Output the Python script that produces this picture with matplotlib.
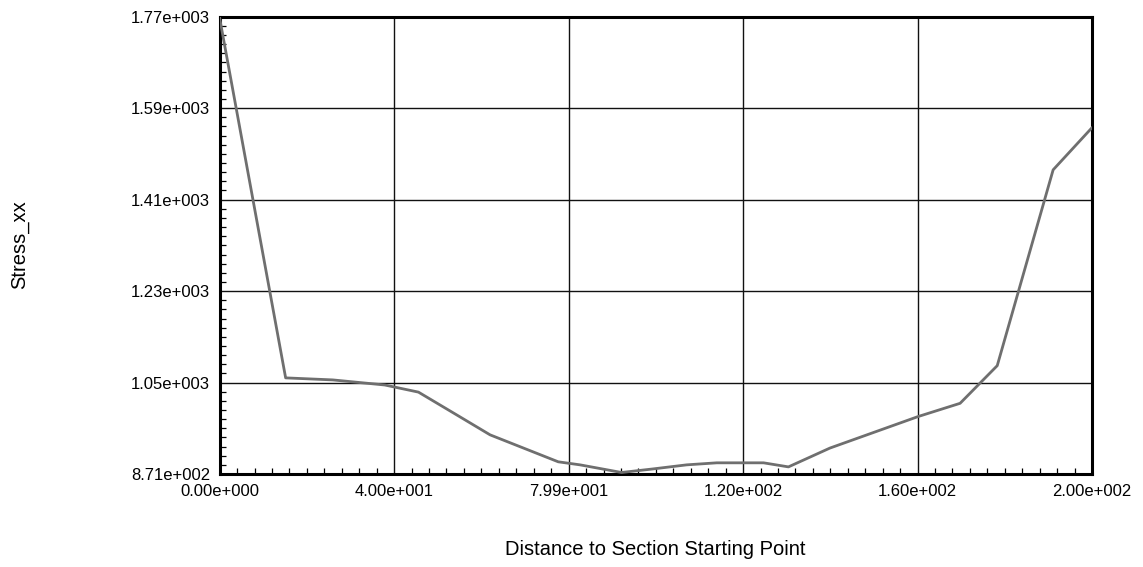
import numpy as np
import matplotlib
matplotlib.use("Agg")
import matplotlib.pyplot as plt
from matplotlib.ticker import AutoMinorLocator

# Stress_xx sampled along the section path
distance = [0.0, 15.1, 25.9, 37.8, 45.5, 54.3, 61.9, 77.5, 82.5, 92.0,
            99.2, 106.9, 113.8, 124.5, 130.2, 139.7, 159.9, 169.5, 178.0,
            190.8, 199.6]
stress_xx = [1767, 1060, 1056, 1046, 1032, 987, 948, 895, 889, 874,
             881, 889, 893, 893, 885, 922, 984, 1010, 1084,
             1469, 1551]

x_limits = (0.0, 199.7)
y_limits = (871.0, 1770.0)
x_tick_labels = ["0.00e+000", "4.00e+001", "7.99e+001", "1.20e+002", "1.60e+002", "2.00e+002"]
y_tick_labels = ["8.71e+002", "1.05e+003", "1.23e+003", "1.41e+003", "1.59e+003", "1.77e+003"]

plt.rcParams["font.family"] = ["Liberation Sans", "DejaVu Sans"]

fig = plt.figure(figsize=(11.43, 5.67), dpi=100)
ax = fig.add_axes([0.1922, 0.164, 0.7632, 0.8065])

ax.plot(distance, stress_xx, color="#6f6f6f", linewidth=2.0, zorder=3)

ax.set_xlim(*x_limits)
ax.set_ylim(*y_limits)
ax.set_xticks(np.linspace(*x_limits, len(x_tick_labels)))
ax.set_xticklabels(x_tick_labels)
ax.set_yticks(np.linspace(*y_limits, len(y_tick_labels)))
ax.set_yticklabels(y_tick_labels)
ax.xaxis.set_minor_locator(AutoMinorLocator(10))
ax.yaxis.set_minor_locator(AutoMinorLocator(10))

ax.grid(True, which="major", color="#111111", linewidth=1.0, zorder=1)
ax.tick_params(which="major", length=0, labelsize=12, pad=7, colors="black")
ax.tick_params(which="minor", direction="in", length=4, width=0.9, color="black",
               top=False, right=False)

for side in ax.spines.values():
    side.set_linewidth(2.2)
    side.set_color("black")

fig.text(0.5735, 0.030, "Distance to Section Starting Point", ha="center", va="center",
         fontsize=14.5)
fig.text(0.0175, 0.568, "Stress_xx", ha="center", va="center", rotation=90,
         fontsize=14.5)

fig.savefig("out.png", dpi=100)
